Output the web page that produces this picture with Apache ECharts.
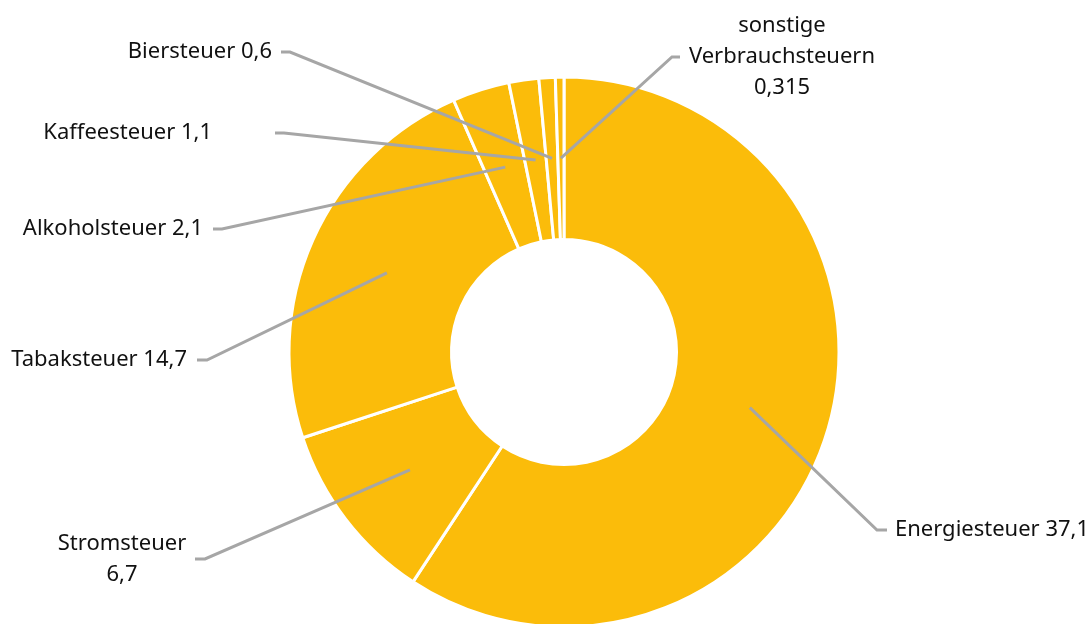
<!DOCTYPE html>
<html>
<head>
<meta charset="utf-8">
<script src="https://cdn.jsdelivr.net/npm/echarts@6/dist/echarts.min.js"></script>
<style>
  html, body { margin: 0; padding: 0; background: #fff; }
  #chart { width: 1091px; height: 624px; }
</style>
</head>
<body>
<div id="chart"></div>
<script>
// Verbrauchsteuern, Mrd. Euro
var names = ['Energiesteuer', 'Stromsteuer', 'Tabaksteuer', 'Alkoholsteuer', 'Kaffeesteuer', 'Biersteuer', 'sonstige\nVerbrauchsteuern'];
var values = [37.1, 6.7, 14.7, 2.1, 1.1, 0.6, 0.315];
var seps = [' ', '\n', ' ', ' ', ' ', ' ', '\n'];

// Lage der Beschriftungen (x, y der Textkante, Knick- und Endpunkt der Linie)
var labelPos = [
    { x: 895, y: 530, align: 'left', end: 887, elbow: 877 },
    { x: 122, y: 559, align: 'center', end: 195, elbow: 205 },
    { x: 187, y: 360, align: 'right', end: 197, elbow: 207 },
    { x: 203, y: 229, align: 'right', end: 213, elbow: 222 },
    { x: 212, y: 133, align: 'right', end: 275, elbow: 284 },
    { x: 272, y: 52, align: 'right', end: 281, elbow: 290 },
    { x: 782, y: 57, align: 'center', end: 680, elbow: 672 }
];

var cx = 564, cy = 352, outerR = 275, innerR = 112.5, lineR = 194;

var myChart = echarts.init(document.getElementById('chart'));

var data = names.map(function (n, i) {
    return { name: n, value: values[i] };
});

myChart.setOption({
    animation: false,
    series: [{
        // Ring
        type: 'pie',
        z: 2,
        center: [cx, cy],
        radius: [innerR, outerR],
        startAngle: 90,
        clockwise: true,
        silent: true,
        itemStyle: {
            color: '#FBBC0A',
            borderColor: '#ffffff',
            borderWidth: 3
        },
        label: { show: false },
        labelLine: { show: false },
        data: data
    }, {
        // unsichtbare Hilfsserie nur fuer Beschriftungen und Linien (liegt oben)
        type: 'pie',
        z: 3,
        center: [cx, cy],
        radius: [0, lineR],
        startAngle: 90,
        clockwise: true,
        silent: true,
        avoidLabelOverlap: false,
        itemStyle: { color: 'rgba(0,0,0,0)', borderWidth: 0 },
        label: {
            show: true,
            position: 'outside',
            fontFamily: 'Noto Sans',
            fontSize: 22,
            lineHeight: 31,
            color: '#111111',
            formatter: function (p) {
                return p.name + seps[p.dataIndex] + String(p.value).replace('.', ',');
            }
        },
        labelLine: {
            show: true,
            length: 10,
            length2: 10,
            lineStyle: { color: '#A6A6A6', width: 3 }
        },
        labelLayout: function (params) {
            var pos = labelPos[params.dataIndex];
            var start = params.labelLinePoints[0];
            return {
                x: pos.x,
                y: pos.y,
                align: pos.align,
                verticalAlign: 'middle',
                labelLinePoints: [start, [pos.elbow, pos.y], [pos.end, pos.y]]
            };
        },
        data: data
    }]
});
</script>
</body>
</html>
